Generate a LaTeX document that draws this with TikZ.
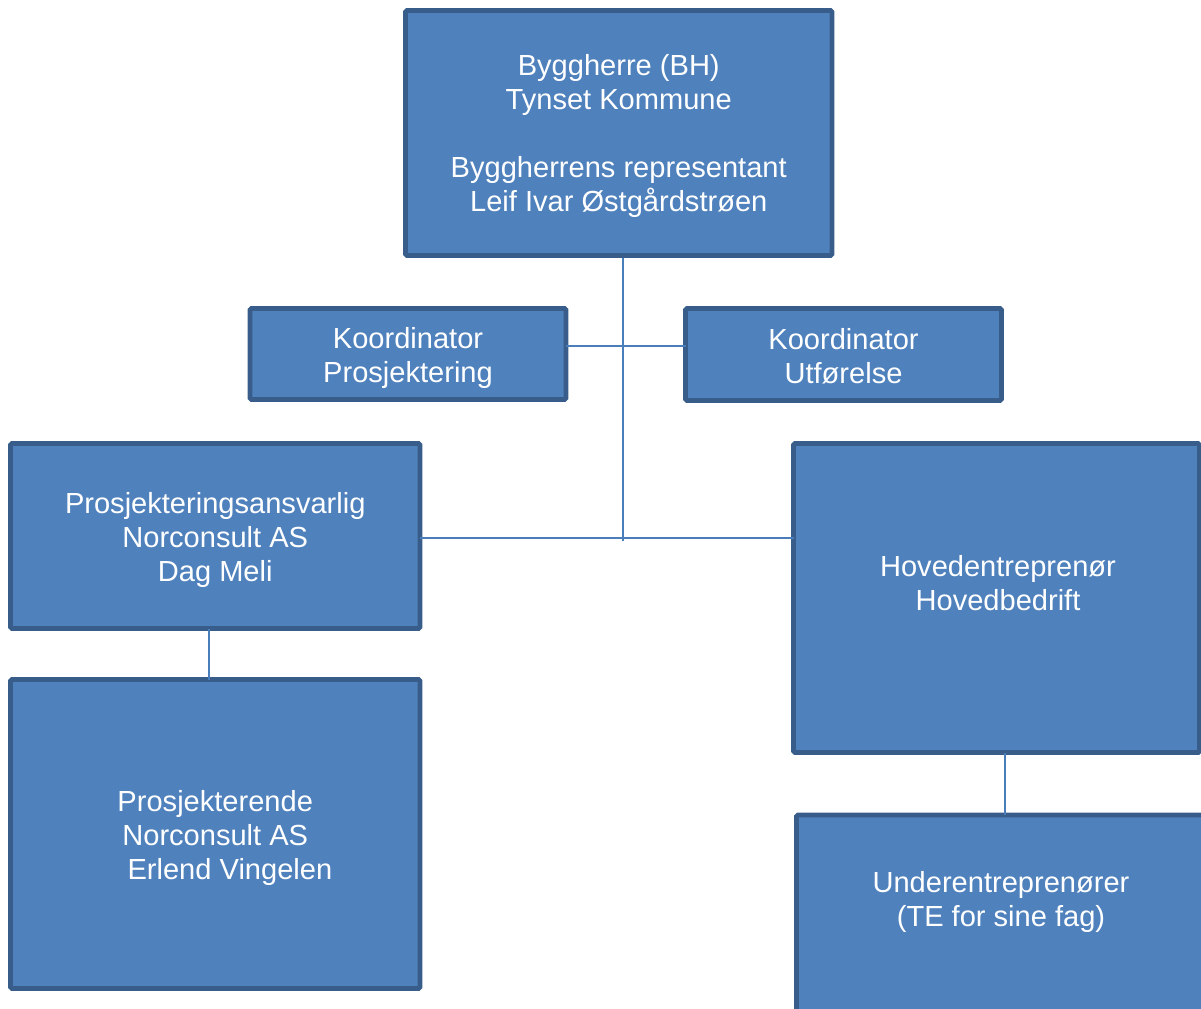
\documentclass[tikz,border=0pt]{standalone}
\usepackage{fontspec}
\setmainfont{Liberation Sans}
\definecolor{boxfill}{HTML}{4F81BD}
\definecolor{boxborder}{HTML}{385D8A}
\definecolor{linkcol}{HTML}{4A7EBB}
\begin{document}
\begin{tikzpicture}[x=0.75pt,y=-0.75pt,
  orgbox/.style={draw=boxborder,fill=boxfill,line width=3.5pt,rounded corners=1pt,
    inner sep=0pt,outer sep=0pt,anchor=north west},
  lbl/.style={text=white,align=center,inner sep=0pt,font=\fontsize{21.8pt}{25.5pt}\selectfont},
  link/.style={draw=linkcol,line width=1.5pt}]
\useasboundingbox (0,0) rectangle (1201,1008);
\clip (0,0) rectangle (1201,1008);
% connectors (drawn first, under boxes)
\coordinate (junc) at (623,541);
\coordinate (bhfoot) at (623,256);
\coordinate (kline) at (623,345.5);
\draw[link] (bhfoot) -- (junc);
\node[orgbox,minimum width=426.5*0.75pt,minimum height=245*0.75pt] (bh) at (405.5,10.5) {};
\node[lbl] (bhtxt) at ([yshift=-2.6pt]bh.center)
  {Byggherre (BH)\\Tynset Kommune\\[25.5pt]Byggherrens representant\\Leif Ivar Østgårdstrøen};
\node[orgbox,minimum width=316*0.75pt,minimum height=91*0.75pt] (kp) at (250,308.5) {};
\node[lbl] (kptxt) at ([yshift=-2.8pt]kp.center) {Koordinator\\Prosjektering};
\node[orgbox,minimum width=316*0.75pt,minimum height=92*0.75pt] (ku) at (685.5,308.5) {};
\node[lbl] (kutxt) at ([yshift=-1pt]ku.center) {Koordinator\\Utførelse};
\node[orgbox,minimum width=409.5*0.75pt,minimum height=185*0.75pt] (pa) at (10.5,443.5) {};
\node[lbl] (patxt) at ([yshift=-2.8pt]pa.center) {Prosjekteringsansvarlig\\Norconsult AS\\Dag Meli};
\node[orgbox,minimum width=409.5*0.75pt,minimum height=309*0.75pt] (pe) at (10.5,679.5) {};
\node[lbl] (petxt) at ([yshift=-2.8pt]pe.center)
  {Prosjekterende\\Norconsult AS\\\hspace*{22pt}Erlend Vingelen};
\node[orgbox,minimum width=406*0.75pt,minimum height=309*0.75pt] (he) at (793.5,443.5) {};
\node[lbl] (hetxt) at (998,583) {Hovedentreprenør\\Hovedbedrift};
\node[orgbox,minimum width=410*0.75pt,minimum height=309*0.75pt] (ue) at (796.5,815) {};
\node[lbl] (uetxt) at (1001,901.5) {Underentreprenører\\(TE for sine fag)};
\draw[link] (kp.east |- kline) -- (ku.west |- kline);
\draw[link] (pa.east |- junc) ++(0,-3) coordinate (paj) -- (he.west |- paj);
\draw[link] (pa.south -| 209,0) -- (pe.north -| 209,0);
\draw[link] (he.south -| 1005,0) -- (ue.north -| 1005,0);
\end{tikzpicture}
\end{document}
